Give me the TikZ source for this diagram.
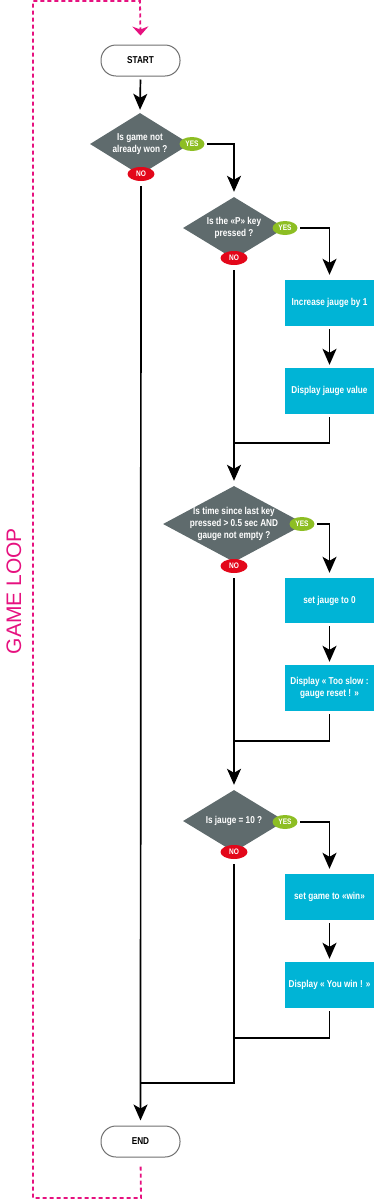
\documentclass[tikz,border=0pt]{standalone}
\usepackage{fontspec}
\newfontfamily\cond[FakeStretch=0.82]{Liberation Sans}
\newfontfamily\loopfont{Liberation Sans}
\usetikzlibrary{arrows.meta,shapes.geometric}
\definecolor{diagray}{HTML}{5F6B6D}
\definecolor{procblue}{HTML}{00B4D6}
\definecolor{yesgreen}{HTML}{8DBE23}
\definecolor{nored}{HTML}{E3071A}
\definecolor{loopmag}{HTML}{E6117F}
\definecolor{termgray}{HTML}{707070}
\tikzset{
  term/.style={draw=termgray, line width=1pt, rounded corners=15pt, fill=white,
    minimum width=79pt, minimum height=31pt, inner sep=0pt,
    font=\cond\bfseries\fontsize{10}{12}\selectfont},
  diabox/.style={shape=diamond, fill=diagray, inner sep=0pt},
  diatext/.style={text=white, align=center, inner sep=0pt,
    font=\cond\bfseries\fontsize{10}{12}\selectfont},
  yesbadge/.style={ellipse, fill=yesgreen, minimum width=25pt, minimum height=14pt,
    inner sep=0pt, text=white, font=\cond\bfseries\fontsize{8}{9}\selectfont},
  nobadge/.style={ellipse, fill=nored, minimum width=27pt, minimum height=14pt,
    inner sep=0pt, text=white, font=\cond\bfseries\fontsize{8}{9}\selectfont},
  proc/.style={rectangle, fill=procblue, minimum width=89pt, minimum height=46pt,
    inner sep=0pt, text=white, align=center,
    font=\cond\bfseries\fontsize{10}{12.5}\selectfont},
  conn/.style={line width=1.7pt, black},
  arr/.style={conn, -{Stealth[length=16pt,width=14pt,inset=4pt]}},
  loopline/.style={loopmag, line width=1.8pt, dash pattern=on 4pt off 3pt},
}
\begin{document}
\begin{tikzpicture}[x=1pt,y=-1pt]
\useasboundingbox (0,0) rectangle (375,1200);

% terminals
\node[term] (start) at (140.5,60.5) {START};
\node[term] (end) at (140.5,1141.5) {END};

% decision 1
\node[diabox, minimum width=100pt, minimum height=62pt] (d1) at (140,144) {};
\node[diatext] (t1) at (d1.center) {Is game not\\already won ?};
\node[yesbadge] (yes1) at (192,144) {YES};
\node[nobadge] (no1) at (141,174) {NO};

% decision 2
\node[diabox, minimum width=102pt, minimum height=62pt] (d2) at (234,228) {};
\node[diatext] (t2) at (d2.center) {Is the «P» key\\pressed ?};
\node[yesbadge] (yes2) at (285,228) {YES};
\node[nobadge] (no2) at (234,258) {NO};

\node[proc] (b1) at (329.5,303) {Increase jauge by 1};
\node[proc] (b2) at (329.5,391) {Display jauge value};
\coordinate (j1) at (234,443);

% decision 3
\node[diabox, minimum width=142pt, minimum height=76pt] (d3) at (234,524) {};
\node[diatext] (t3) at (d3.center) {Is time since last key\\pressed > 0.5 sec AND\\gauge not empty ?};
\node[yesbadge] (yes3) at (302,524) {YES};
\node[nobadge] (no3) at (234,566) {NO};

\node[proc, minimum height=45pt] (b3) at (329.5,600.5) {set jauge to 0};
\node[proc] (b4) at (329.5,688) {Display « Too slow :\\gauge reset ! »};
\coordinate (j2) at (234,741);

% decision 4
\node[diabox, minimum width=102pt, minimum height=62pt] (d4) at (234,821) {};
\node[diatext] (t4) at (d4.center) {Is jauge = 10 ?};
\node[yesbadge] (yes4) at (285,822) {YES};
\node[nobadge] (no4) at (234,852) {NO};

\node[proc] (b5) at (329.5,897) {set game to «win»};
\node[proc] (b6) at (329.5,985) {Display « You win ! »};
\coordinate (j3) at (234,1038);
\coordinate (j4) at (141,1083);

% connectors
\draw[arr, shorten <=3pt, shorten >=3pt] (start.south) -- (d1.north);
\draw[arr, shorten <=2.5pt, shorten >=5pt] (yes1.east) -| (d2.north);
\draw[arr, shorten <=5pt, shorten >=5pt] (no1.south) -- (end.north);

\draw[arr, shorten <=2.5pt, shorten >=5pt] (yes2.east) -| (b1.north);
\draw[arr, shorten <=3pt, shorten >=3pt] (b1.south) -- (b2.north);
\draw[conn, shorten <=3pt] (b2.south) |- (j1);
\draw[arr, shorten <=5pt, shorten >=5pt] (no2.south) -- (d3.north);

\draw[arr, shorten <=2.5pt, shorten >=5pt] (yes3.east) -| (b3.north);
\draw[arr, shorten <=3pt, shorten >=3pt] (b3.south) -- (b4.north);
\draw[conn, shorten <=3pt] (b4.south) |- (j2);
\draw[arr, shorten <=5pt, shorten >=5pt] (no3.south) -- (d4.north);

\draw[arr, shorten <=2.5pt, shorten >=5pt] (yes4.east) -| (b5.north);
\draw[arr, shorten <=3pt, shorten >=3pt] (b5.south) -- (b6.north);
\draw[conn, shorten <=3pt] (b6.south) |- (j3);
\draw[conn, shorten <=5pt] (no4.south) |- (j4);

% game loop
\coordinate (lb) at (141,1198);
\coordinate (lbl) at (33,1198);
\coordinate (ltl) at (33,1);
\coordinate (lt) at (140,1);
\draw[loopline, shorten <=9pt, -{Stealth[length=9pt,width=16pt,inset=3pt]}]
  (end.south) -- (lb) -- (lbl) -- (ltl) -- (lt) -- ([yshift=9pt]start.north);
\node[rotate=90, text=loopmag, font=\loopfont\fontsize{21}{24}\selectfont, inner sep=0pt]
  (loop) at (14,591) {GAME LOOP};
\end{tikzpicture}
\end{document}
